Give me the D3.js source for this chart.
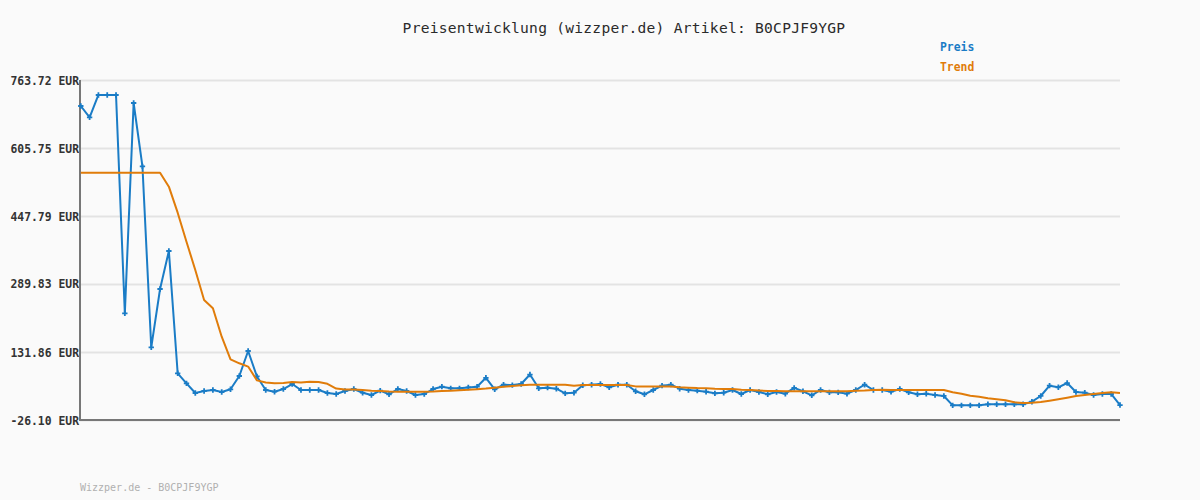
<!DOCTYPE html>
<html>
<head>
<meta charset="utf-8">
<script src="https://cdn.jsdelivr.net/npm/d3@7"></script>
<style>
  html, body { margin: 0; padding: 0; background: #fafafa; }
  svg { display: block; }
</style>
</head>
<body>
<svg id="chart" width="1200" height="500"></svg>
<script>
const titleText = "Preisentwicklung (wizzper.de) Artikel: B0CPJF9YGP";
const footerText = "Wizzper.de - B0CPJF9YGP";
const seriesNames = ["Preis", "Trend"];
const tickValues = [763.72, 605.75, 447.79, 289.83, 131.86, -26.10];
const tickLabels = ["763.72 EUR", "605.75 EUR", "447.79 EUR", "289.83 EUR", "131.86 EUR", "-26.10 EUR"];

const preis = [
  703.3, 677.1, 728.9, 728.9, 728.9, 221.8, 710.3, 563.2, 142.8, 278.2,
  366.5, 82.4, 59.1, 36.6, 41.3, 43.6, 38.9, 45.2, 76.1, 134.2,
  75.0, 43.6, 39.6, 45.9, 57.5, 43.6, 43.6, 43.6, 36.6, 34.3,
  41.3, 45.9, 37.3, 32.0, 42.0, 33.6, 45.9, 41.3, 32.0, 34.3,
  45.9, 51.3, 47.5, 47.5, 49.5, 51.3, 72.0, 45.2, 56.0, 55.0,
  57.5, 79.5, 47.5, 49.0, 46.6, 35.9, 37.3, 54.5, 55.9, 57.5,
  49.9, 55.9, 55.9, 40.6, 33.6, 43.6, 53.6, 56.0, 46.6, 43.6,
  42.0, 39.6, 35.9, 37.3, 43.6, 34.3, 43.6, 38.9, 33.6, 38.9,
  35.0, 48.5, 40.6, 31.3, 43.6, 38.2, 38.2, 35.0, 43.6, 55.9,
  43.6, 43.6, 39.6, 45.9, 38.2, 33.6, 35.0, 32.0, 29.7, 8.0,
  8.0, 8.0, 8.0, 10.4, 10.4, 10.4, 10.4, 10.4, 16.4, 29.7,
  53.6, 49.9, 59.8, 38.9, 37.3, 32.0, 34.3, 34.3, 8.7
];

const trend = [
  548.4, 548.4, 548.4, 548.4, 548.4, 548.4, 548.4, 548.4, 548.4, 548.4,
  515.9, 455.5, 388.1, 322.3, 252.7, 233.4, 167.4, 114.9, 105.6, 98.0,
  66.0, 61.0, 59.5, 60.0, 62.0, 61.0, 63.0, 62.0, 58.0, 47.0,
  45.0, 44.5, 43.5, 42.0, 41.0, 40.0, 39.6, 39.6, 39.6, 39.6,
  40.0, 41.0, 42.0, 43.0, 44.0, 45.5, 47.0, 49.0, 51.0, 53.0,
  54.5, 55.5, 56.0, 56.0, 56.0, 56.0, 53.5, 55.0, 55.0, 55.0,
  55.0, 55.0, 55.0, 52.0, 51.5, 51.5, 51.5, 51.5, 50.0, 49.0,
  48.0, 47.5, 46.5, 46.0, 46.0, 44.0, 43.5, 42.5, 41.0, 41.0,
  40.6, 40.6, 40.6, 40.6, 40.6, 40.6, 40.6, 40.6, 42.0, 42.5,
  43.5, 44.0, 43.6, 43.6, 43.6, 43.6, 43.6, 43.6, 43.6, 38.2,
  35.0, 30.4, 28.0, 24.3, 22.0, 19.7, 15.0, 13.4, 13.7, 15.7,
  18.7, 22.0, 25.7, 29.7, 32.0, 34.3, 36.6, 38.2, 36.6
];

const categories = preis.map((_, i) => i);

const svg = d3.select("#chart");
const mLeft = 80, mRight = 1120, mTop = 80, mBottom = 420;
const blue = "#1a7cc6", orange = "#e07c0a";
const mono = "'DejaVu Sans Mono', 'Liberation Mono', monospace";

svg.append("rect").attr("width", 1200).attr("height", 500).attr("fill", "#fafafa");

const x = d3.scaleLinear().domain([0, categories.length - 1]).range([mLeft + 0.8, mRight]);
const y = d3.scaleLinear().domain([tickValues[tickValues.length - 1], tickValues[0]]).range([mBottom, mTop]);

// gridlines
const grid = svg.append("g").attr("transform", `translate(${mLeft},0)`)
  .call(d3.axisLeft(y).tickValues(tickValues).tickSize(-(mRight - mLeft)).tickFormat(""));
grid.select(".domain").remove();
grid.selectAll(".tick line").attr("stroke", "#e3e3e3").attr("stroke-width", 2);

// y labels
const yAxis = svg.append("g").attr("transform", `translate(${mLeft},0)`)
  .call(d3.axisLeft(y).tickValues(tickValues).tickSize(0).tickPadding(1)
    .tickFormat((d, i) => tickLabels[i]));
yAxis.select(".domain").remove();
yAxis.selectAll(".tick text")
  .attr("font-family", mono).attr("font-size", 11.4).attr("font-weight", "bold")
  .attr("fill", "#333").attr("dy", "0.35em");

// axis lines
svg.append("line").attr("x1", mLeft).attr("x2", mLeft).attr("y1", mTop).attr("y2", mBottom + 1)
  .attr("stroke", "#777").attr("stroke-width", 2);
svg.append("line").attr("x1", mLeft - 1).attr("x2", mRight).attr("y1", mBottom).attr("y2", mBottom)
  .attr("stroke", "#777").attr("stroke-width", 2);

// lines
const line = d3.line().x((d, i) => x(i)).y(d => y(d));
svg.append("path").datum(preis).attr("d", line)
  .attr("fill", "none").attr("stroke", blue).attr("stroke-width", 2).attr("stroke-linejoin", "round");

svg.selectAll(".pt").data(preis).enter().append("path")
  .attr("class", "pt")
  .attr("transform", (d, i) => `translate(${x(i)},${y(d)})`)
  .attr("d", d3.symbol(d3.symbolCross).size(16))
  .attr("fill", blue);

svg.append("path").datum(trend).attr("d", line)
  .attr("fill", "none").attr("stroke", orange).attr("stroke-width", 2).attr("stroke-linejoin", "round");

// title
svg.append("text").attr("x", 624).attr("y", 33).attr("text-anchor", "middle")
  .attr("font-family", mono).attr("font-size", 14.6).attr("fill", "#2a2a2a")
  .attr("letter-spacing", 0.25)
  .text(titleText);

// legend
svg.append("text").attr("x", 940).attr("y", 51).attr("font-family", mono)
  .attr("font-size", 11.4).attr("font-weight", "bold").attr("fill", blue).text(seriesNames[0]);
svg.append("text").attr("x", 940).attr("y", 71).attr("font-family", mono)
  .attr("font-size", 11.4).attr("font-weight", "bold").attr("fill", orange).text(seriesNames[1]);

// footer
svg.append("text").attr("x", 80).attr("y", 491).attr("font-family", mono)
  .attr("font-size", 10).attr("fill", "#b0b0b0").text(footerText);
</script>
</body>
</html>
